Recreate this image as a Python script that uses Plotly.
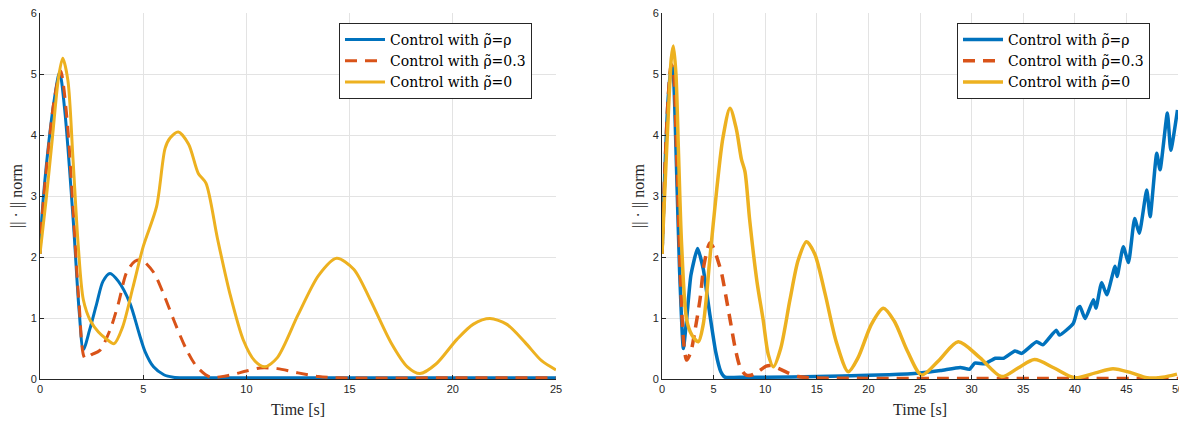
import plotly.graph_objects as go

# ---------------- Left panel data ----------------
tL_rho = [0, 0.1, 0.4, 0.7, 0.95, 1.2, 1.61, 1.9, 2.1, 2.4, 2.75, 3.05, 3.39, 3.8, 4.36, 4.8, 5.09, 5.5, 6.0, 6.46, 7.0, 8, 10, 15, 20, 25]
yL_rho = [2.05, 2.7, 3.8, 4.6, 5.03, 4.4, 2.6, 1.1, 0.48, 0.8, 1.24, 1.6, 1.73, 1.6, 1.24, 0.75, 0.45, 0.2, 0.07, 0.03, 0.02, 0.02, 0.02, 0.02, 0.02, 0.02]

tL_03 = [0, 0.1, 0.4, 0.7, 1.0, 1.3, 1.6, 1.9, 2.18, 2.5, 2.9, 3.39, 3.8, 4.2, 4.6, 4.93, 5.5, 5.98, 6.5, 7.1, 7.6, 8.24, 9, 10, 10.66, 11.5, 12.5, 13.5, 14.5, 20, 25]
yL_03 = [2.05, 2.65, 3.75, 4.6, 5.05, 4.3, 2.8, 1.2, 0.34, 0.4, 0.47, 0.8, 1.24, 1.75, 1.93, 1.95, 1.75, 1.4, 0.95, 0.48, 0.2, 0.03, 0.05, 0.13, 0.18, 0.17, 0.1, 0.04, 0.02, 0.02, 0.02]

tL_0 = [0, 0.3, 0.6, 0.9, 1.1, 1.35, 1.6, 1.85, 2.1, 2.45, 2.83, 3.2, 3.59, 4.0, 4.5, 5.0, 5.65, 6.06, 6.3, 6.7, 7.2, 7.67, 8.04, 8.6, 9.2, 9.85, 10.4, 10.9, 11.5, 12.5, 13.5, 14.37, 15.2, 16, 17, 17.8, 18.41, 19.2, 20.2, 21, 21.8, 22.6, 23.5, 24.3, 25]
yL_0 = [2.05, 2.95, 3.95, 4.95, 5.26, 4.9, 3.6, 2.2, 1.3, 0.95, 0.77, 0.66, 0.58, 0.85, 1.5, 2.17, 2.83, 3.78, 3.95, 4.05, 3.85, 3.37, 3.21, 2.3, 1.4, 0.64, 0.3, 0.2, 0.35, 1.05, 1.7, 1.98, 1.8, 1.3, 0.6, 0.2, 0.09, 0.25, 0.65, 0.9, 0.99, 0.9, 0.6, 0.3, 0.15]

# ---------------- Right panel data ----------------
tR_rho = [0, 0.3, 0.6, 0.9, 1.1, 1.4, 1.7, 2.07, 2.4, 2.8, 3.45, 4.0, 4.6, 5.2, 5.7, 6.1, 8, 10, 15, 20, 22, 25, 27,
          28.9, 29.8, 30.3, 31.3, 32.3, 33.1, 34.2, 34.85, 36.3, 36.9, 38.2, 38.5, 39.85, 40.3, 40.5, 41.0, 41.8, 42.05,
          42.6, 43.1, 43.9, 44.1, 44.7, 45.2, 45.8, 46.25, 46.97, 47.3, 47.94, 48.26, 48.97, 49.3, 49.95]
yR_rho = [2.05, 3.5, 4.6, 5.15, 5.0, 3.5, 1.8, 0.5, 1.0, 1.7, 2.14, 1.8, 1.1, 0.45, 0.12, 0.03, 0.03, 0.03, 0.04, 0.06, 0.07, 0.1, 0.14,
          0.19, 0.16, 0.26, 0.25, 0.34, 0.34, 0.46, 0.42, 0.61, 0.56, 0.80, 0.72, 0.91, 1.16, 1.19, 0.99, 1.30, 1.16,
          1.58, 1.38, 1.85, 1.68, 2.17, 1.91, 2.63, 2.39, 3.10, 2.66, 3.70, 3.43, 4.36, 3.75, 4.41]

tR_03 = [0, 0.3, 0.6, 0.9, 1.1, 1.4, 1.8, 2.1, 2.39, 2.8, 3.2, 3.68, 4.1, 4.65, 5.0, 5.4, 5.78, 6.2, 6.6, 7.1, 7.56, 8.1, 8.6, 9.3, 10.1, 10.5, 11.2, 12.2, 13.2, 14.5, 20, 30, 40, 50]
yR_03 = [2.05, 3.5, 4.6, 5.15, 5.05, 3.8, 1.6, 0.6, 0.31, 0.45, 0.8, 1.3, 1.9, 2.23, 2.15, 1.95, 1.73, 1.35, 0.97, 0.5, 0.2, 0.07, 0.06, 0.12, 0.21, 0.22, 0.18, 0.1, 0.04, 0.02, 0.01, 0.01, 0.01, 0.01]

tR_0 = [0, 0.3, 0.6, 0.9, 1.1, 1.35, 1.6, 1.9, 2.39, 2.9, 3.52, 4.0, 4.65, 5.3, 5.9, 6.59, 7.2, 7.7, 8.04, 8.5, 9.2, 9.8, 10.3, 10.79, 11.5, 12.4, 13.2, 14.0, 14.8, 15.8, 16.9, 18.05, 19.0, 20.3, 21.45, 22.5, 23.8, 25.16, 26.8, 28.7, 30.8, 32.9, 34.5, 36.1, 38.0, 40.0, 42.0, 43.7, 45.5, 47, 48.5, 49.9]
yR_0 = [2.05, 3.2, 4.3, 5.25, 5.46, 5.0, 3.7, 2.2, 0.97, 0.72, 0.61, 0.9, 2.0, 3.1, 3.95, 4.44, 4.1, 3.6, 3.40, 2.6, 1.6, 0.97, 0.4, 0.2, 0.5, 1.3, 1.95, 2.25, 2.05, 1.4, 0.6, 0.12, 0.35, 0.9, 1.16, 0.95, 0.45, 0.065, 0.3, 0.61, 0.35, 0.04, 0.18, 0.32, 0.18, 0.02, 0.1, 0.17, 0.1, 0.02, 0.03, 0.08]

RHO_T = "ρ\u0303"
names = ["Control with " + RHO_T + "=ρ", "Control with " + RHO_T + "=0.3", "Control with " + RHO_T + "=0"]
BLUE, ORANGE, YELLOW = "#0072BD", "#D95319", "#EDB120"

# page body has an 8px default margin; the figure is sized to fill the rest
OFF = 8
W, H = 1187 - OFF, 421 - OFF
fig = go.Figure()

def add(x, y, name, color, dash, xa, ya, legend, width, smooth):
    fig.add_trace(go.Scatter(
        x=x, y=y, name=name, mode="lines", xaxis=xa, yaxis=ya, legend=legend,
        line=dict(color=color, width=width, dash=dash, shape="spline", smoothing=smooth)))

add(tL_rho, yL_rho, names[0], BLUE, "solid", "x", "y", "legend", 3, 0.8)
add(tL_03, yL_03, names[1], ORANGE, "12px,8px", "x", "y", "legend", 3, 0.8)
add(tL_0, yL_0, names[2], YELLOW, "solid", "x", "y", "legend", 3, 0.8)
add(tR_rho, yR_rho, names[0], BLUE, "solid", "x2", "y2", "legend2", 3.5, 0.5)
add(tR_03, yR_03, names[1], ORANGE, "12px,8px", "x2", "y2", "legend2", 3.5, 0.8)
add(tR_0, yR_0, names[2], YELLOW, "solid", "x2", "y2", "legend2", 3.5, 0.8)

def px(v):
    return (v - OFF) / W

def py(v):
    return 1 - (v - OFF) / H

SERIF = "Liberation Serif"
tickfont = dict(family="Liberation Sans", size=11, color="#262626")
axcommon = dict(showgrid=True, gridcolor="#E3E3E3", gridwidth=1, zeroline=False,
                showline=True, linecolor="#262626", linewidth=1, ticks="inside",
                ticklen=4, tickcolor="#262626", tickfont=tickfont, mirror=False,
                automargin=False, ticklabeloverflow="allow")

legcommon = dict(bgcolor="white", bordercolor="#262626", borderwidth=1,
                 font=dict(family="DejaVu Serif", size=14, color="#000000"),
                 xanchor="right", yanchor="top", tracegroupgap=0, itemwidth=40)

fig.update_layout(
    width=W, height=H, margin=dict(l=0, r=0, t=0, b=0, autoexpand=False),
    font=dict(family=SERIF, size=15, color="#000000"),
    paper_bgcolor="white", plot_bgcolor="white", showlegend=True,
    xaxis=dict(domain=[px(40), px(556)], range=[0, 25], tickvals=[0, 5, 10, 15, 20, 25], anchor="y", **axcommon),
    yaxis=dict(domain=[py(379), py(13)], range=[0, 6], tickvals=[0, 1, 2, 3, 4, 5, 6], anchor="x", **axcommon),
    xaxis2=dict(domain=[px(662), px(1178)], range=[0, 50], tickvals=list(range(0, 51, 5)), anchor="y2", **axcommon),
    yaxis2=dict(domain=[py(379), py(13)], range=[0, 6], tickvals=[0, 1, 2, 3, 4, 5, 6], anchor="x2", **axcommon),
    legend=dict(x=px(532), y=py(23), **legcommon),
    legend2=dict(x=px(1150), y=py(23), **legcommon),
)

labfont = dict(family=SERIF, size=16, color="#262626")
for cx in (298, 920):
    fig.add_annotation(text="Time [s]", x=px(cx), y=py(409), xref="paper", yref="paper",
                       showarrow=False, font=labfont, xanchor="center", yanchor="middle")
for cx in (17, 639):
    fig.add_annotation(text="|| · || norm", x=px(cx), y=py(196), xref="paper", yref="paper",
                       showarrow=False, font=labfont, textangle=-90, xanchor="center", yanchor="middle")

fig.write_html("out.html")
